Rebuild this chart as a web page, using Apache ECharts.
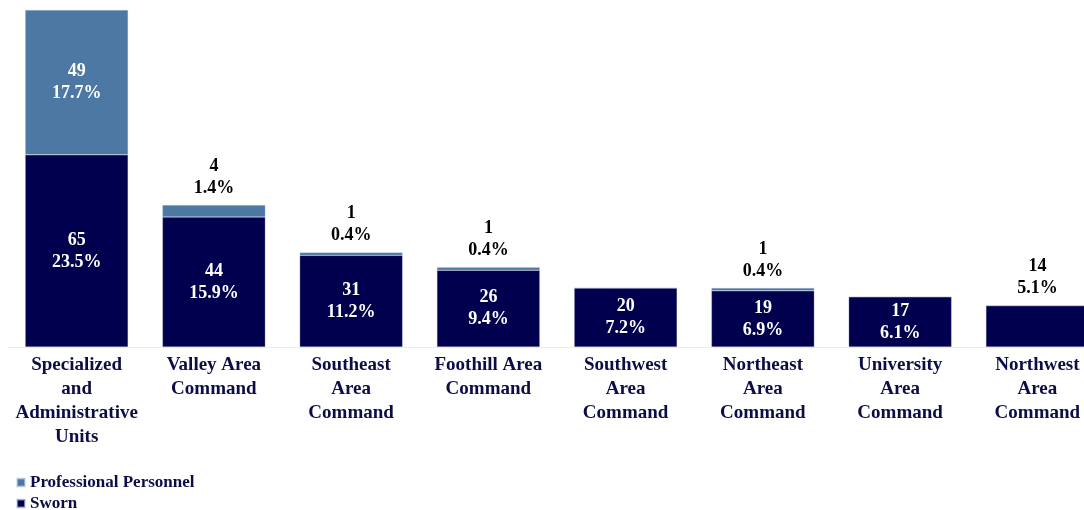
<!DOCTYPE html>
<html>
<head>
<meta charset="utf-8">
<script src="https://cdn.jsdelivr.net/npm/echarts@6/dist/echarts.min.js"></script>
<style>
  html, body { margin: 0; padding: 0; background: #ffffff; overflow: hidden; }
  #chart { width: 1106px; height: 510px; }
</style>
</head>
<body>
<div id="chart"></div>
<script>
// Personnel by command: sworn and professional staff counts with share of total
var categories = [
  'Specialized\nand\nAdministrative\nUnits',
  'Valley Area\nCommand',
  'Southeast\nArea\nCommand',
  'Foothill Area\nCommand',
  'Southwest\nArea\nCommand',
  'Northeast\nArea\nCommand',
  'University\nArea\nCommand',
  'Northwest\nArea\nCommand'
];
var swornValues = [65, 44, 31, 26, 20, 19, 17, 14];
var swornPercent = ['23.5%', '15.9%', '11.2%', '9.4%', '7.2%', '6.9%', '6.1%', '5.1%'];
var professionalValues = [49, 4, 1, 1, 0, 1, 0, 0];
var professionalPercent = ['17.7%', '1.4%', '0.4%', '0.4%', '', '0.4%', '', ''];
var legendNames = ['Professional Personnel', 'Sworn'];

var SWORN_COLOR = '#00004f';
var PRO_COLOR = '#4d78a4';
var FONT = '"Liberation Serif", "Times New Roman", serif';

function labelFor(value, pct, insideMin) {
  if (!value) return { show: false };
  var inside = value >= insideMin;
  return {
    show: true,
    position: inside ? 'inside' : 'top',
    distance: 6,
    color: inside ? '#ffffff' : '#000000',
    fontFamily: FONT,
    fontWeight: 'bold',
    fontSize: 18,
    lineHeight: 22,
    formatter: value + '\n' + pct
  };
}

var swornData = swornValues.map(function (v, i) {
  return { value: v, label: labelFor(v, swornPercent[i], 15) };
});
var professionalData = professionalValues.map(function (v, i) {
  return { value: v, label: labelFor(v, professionalPercent[i], 20) };
});

// one legend block per series so they stack as two rows
var legends = legendNames.map(function (name, i) {
  return {
    left: 11,
    top: 469 + i * 21,
    itemWidth: 8,
    itemHeight: 8,
    itemGap: 0,
    icon: 'rect',
    data: [name],
    textStyle: {
      fontFamily: FONT,
      fontWeight: 'bold',
      fontSize: 17,
      color: '#0c0c46'
    }
  };
});

var chart = echarts.init(document.getElementById('chart'), null, { renderer: 'canvas' });
chart.setOption({
  animation: false,
  backgroundColor: '#ffffff',
  grid: { left: 8, right: 0, top: 10, bottom: 163, containLabel: false },
  legend: legends,
  xAxis: {
    type: 'category',
    data: categories,
    axisLine: { show: true, lineStyle: { color: '#ececec', width: 1 } },
    axisTick: { show: false },
    axisLabel: {
      interval: 0,
      margin: 6,
      fontFamily: FONT,
      fontWeight: 'bold',
      fontSize: 19,
      lineHeight: 24,
      color: '#0c0c46'
    }
  },
  yAxis: {
    type: 'value',
    min: 0,
    max: 114,
    show: false,
    splitLine: { show: false }
  },
  series: [
    {
      name: 'Sworn',
      type: 'bar',
      stack: 'total',
      barWidth: '75%',
      itemStyle: { color: SWORN_COLOR, borderColor: 'rgba(200,210,230,0.6)', borderWidth: 0.5 },
      data: swornData
    },
    {
      name: 'Professional Personnel',
      type: 'bar',
      stack: 'total',
      barWidth: '75%',
      itemStyle: { color: PRO_COLOR, borderColor: 'rgba(200,210,230,0.6)', borderWidth: 0.5 },
      data: professionalData
    }
  ]
});
</script>
</body>
</html>
